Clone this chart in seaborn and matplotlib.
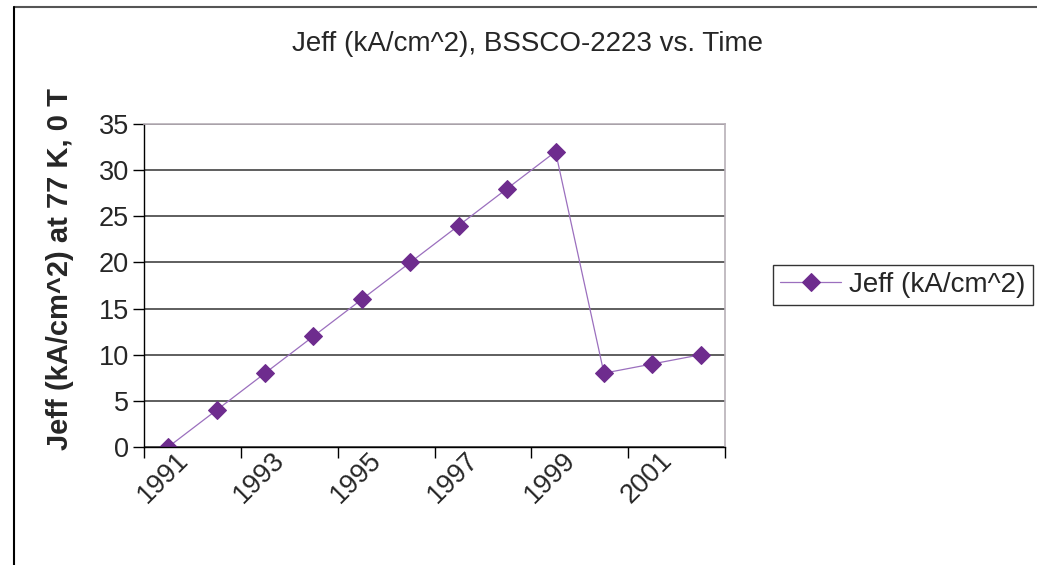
import matplotlib
matplotlib.use("Agg")
import matplotlib.pyplot as plt
import matplotlib.transforms as mtransforms
from matplotlib.lines import Line2D
import seaborn as sns
import pandas as pd

years = ["1991", "1992", "1993", "1994", "1995", "1996",
         "1997", "1998", "1999", "2000", "2001", "2002"]
jeff = [0, 4, 8, 12, 16, 20, 24, 28, 32, 8, 9, 10]
series_name = "Jeff (kA/cm^2)"
y_ticks = [0, 5, 10, 15, 20, 25, 30, 35]

sns.set_theme(style="white")
plt.rcParams["font.family"] = ["Liberation Sans", "DejaVu Sans"]

df = pd.DataFrame({"year": years, "jeff": jeff})

W, H = 1037, 565
fig = plt.figure(figsize=(W / 100, H / 100), dpi=100)
fig.patch.set_facecolor("white")
ax = fig.add_axes([144 / W, 1 - 447 / H, (725 - 144) / W, (447 - 124) / H])

sns.lineplot(data=df, x="year", y="jeff", ax=ax, color="#9B6FBE", linewidth=0.9,
             marker="D", markersize=9.5, markerfacecolor="#6E2C8E",
             markeredgecolor="#6E2C8E", label=series_name, sort=False)

ax.set_xlim(-0.5, len(years) - 0.5)
ax.set_ylim(0, 35)
ax.set_yticks(y_ticks)
ax.yaxis.grid(True, color="#333333", linewidth=1.1)
ax.set_axisbelow(True)

# major ticks at category boundaries every two years, labels on minor ticks at centers
ax.set_xticks([i - 0.5 for i in range(0, len(years) + 1, 2)])
ax.set_xticklabels([])
ax.set_xticks(list(range(0, len(years), 2)), minor=True)
ax.set_xticklabels(years[::2], minor=True, rotation=45, ha="right",
                   va="center", rotation_mode="anchor")
ax.tick_params(axis="x", which="major", direction="out", length=8, width=1, color="black", bottom=True)
ax.tick_params(axis="x", which="minor", length=0, pad=7, labelsize=19.5)
ax.tick_params(axis="y", direction="out", length=8, width=1, color="black", left=True,
               labelsize=19.5, pad=3)
shift = mtransforms.ScaledTranslation(16 / 100, 0, fig.dpi_scale_trans)
for lbl in ax.get_xticklabels(minor=True):
    lbl.set_transform(lbl.get_transform() + shift)

for side in ["top", "right"]:
    ax.spines[side].set_color("#B8B0B8")
    ax.spines[side].set_linewidth(1.2)
for side in ["left", "bottom"]:
    ax.spines[side].set_color("black")
    ax.spines[side].set_linewidth(1.0)

ax.set_xlabel("")
ax.set_ylabel("Jeff (kA/cm^2) at 77 K, 0 T", fontsize=21, fontweight="bold")
ax.yaxis.set_label_coords(-0.12, 0.55)

fig.text(528 / W, 1 - 44 / H, "Jeff (kA/cm^2), BSSCO-2223 vs. Time",
         ha="center", va="center", fontsize=20)

ax.get_legend().remove()
leg = fig.legend(handles=ax.get_lines()[:1], labels=[series_name], loc="center left",
                 bbox_to_anchor=(773 / W, 1 - 285 / H), fontsize=20, frameon=True,
                 fancybox=False, shadow=False, handlelength=2.2, borderpad=0.25,
                 handletextpad=0.3, borderaxespad=0)
leg.get_frame().set_edgecolor("black")
leg.get_frame().set_linewidth(1.0)

# outer chart frame (top and left edges)
fig.add_artist(Line2D([14 / W, 1.0], [1 - 7 / H, 1 - 7 / H], color="#555555", linewidth=1.5))
fig.add_artist(Line2D([14 / W, 14 / W], [0, 1 - 7 / H], color="black", linewidth=1.5))

fig.savefig("out.png", dpi=100)
